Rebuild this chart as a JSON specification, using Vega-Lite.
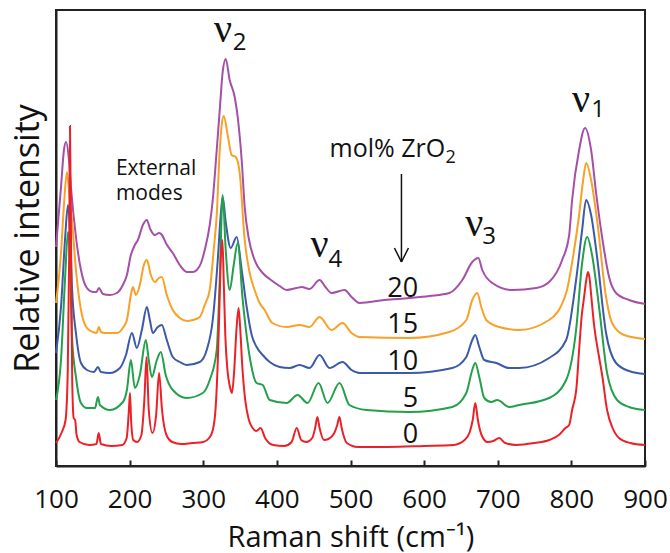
{
  "$schema": "https://vega.github.io/schema/vega-lite/v6.json",
  "width": 589,
  "height": 456,
  "autosize": {"type": "none"},
  "padding": {"left": 56, "top": 10, "right": 25, "bottom": 87},
  "background": "white",
  "config": {"view": {"stroke": "#222", "strokeWidth": 2}, "font": "Open Sans"},
  "datasets": {
    "spectra": [
      {"s":"20","x":100,"y":219},{"s":"20","x":106.8,"y":279},{"s":"20","x":110.8,"y":316},{"s":"20","x":113.6,"y":324},{"s":"20","x":117.6,"y":306},{"s":"20","x":120.3,"y":279},{"s":"20","x":127.1,"y":229},{"s":"20","x":133.9,"y":196},{"s":"20","x":142,"y":178},{"s":"20","x":150.2,"y":174},{"s":"20","x":155,"y":174},{"s":"20","x":158.3,"y":178},{"s":"20","x":163.7,"y":172},{"s":"20","x":173.2,"y":171},{"s":"20","x":182.7,"y":173},{"s":"20","x":190.8,"y":181},{"s":"20","x":196.3,"y":191},{"s":"20","x":201.7,"y":211},{"s":"20","x":207.1,"y":221},{"s":"20","x":211.2,"y":226},{"s":"20","x":218,"y":241},{"s":"20","x":223.4,"y":246},{"s":"20","x":228,"y":237},{"s":"20","x":234,"y":231},{"s":"20","x":240,"y":233},{"s":"20","x":244,"y":231},{"s":"20","x":250,"y":222},{"s":"20","x":258.6,"y":213},{"s":"20","x":268.1,"y":201},{"s":"20","x":277.6,"y":194},{"s":"20","x":285.8,"y":194},{"s":"20","x":291.2,"y":196},{"s":"20","x":297,"y":203},{"s":"20","x":302,"y":216},{"s":"20","x":308.8,"y":241},{"s":"20","x":312.9,"y":266},{"s":"20","x":318.3,"y":316},{"s":"20","x":322.4,"y":356},{"s":"20","x":326.4,"y":394},{"s":"20","x":330.5,"y":407},{"s":"20","x":335.9,"y":386},{"s":"20","x":342.7,"y":369},{"s":"20","x":346.8,"y":349},{"s":"20","x":352.2,"y":306},{"s":"20","x":356.3,"y":259},{"s":"20","x":361.7,"y":228},{"s":"20","x":369.8,"y":206},{"s":"20","x":380.7,"y":193},{"s":"20","x":390.2,"y":187},{"s":"20","x":403.7,"y":180},{"s":"20","x":413.2,"y":176},{"s":"20","x":426.8,"y":178},{"s":"20","x":433.6,"y":179},{"s":"20","x":444.4,"y":177},{"s":"20","x":458,"y":186},{"s":"20","x":466,"y":179},{"s":"20","x":474.2,"y":173},{"s":"20","x":491.9,"y":176},{"s":"20","x":501.4,"y":169},{"s":"20","x":512.2,"y":163},{"s":"20","x":546,"y":166},{"s":"20","x":580,"y":168},{"s":"20","x":607,"y":170},{"s":"20","x":634.2,"y":173},{"s":"20","x":651.9,"y":186},{"s":"20","x":665.4,"y":204},{"s":"20","x":673.6,"y":208},{"s":"20","x":679,"y":196},{"s":"20","x":692.6,"y":183},{"s":"20","x":719.7,"y":176},{"s":"20","x":752.2,"y":178},{"s":"20","x":769.8,"y":184},{"s":"20","x":787.5,"y":206},{"s":"20","x":797,"y":231},{"s":"20","x":801,"y":266},{"s":"20","x":810.5,"y":316},{"s":"20","x":818.6,"y":338},{"s":"20","x":826.8,"y":316},{"s":"20","x":833.6,"y":273},{"s":"20","x":841.7,"y":229},{"s":"20","x":851.2,"y":189},{"s":"20","x":860.7,"y":173},{"s":"20","x":878.3,"y":166},{"s":"20","x":900,"y":162},

      {"s":"15","x":100,"y":163},{"s":"15","x":106.8,"y":213},{"s":"15","x":110.8,"y":261},{"s":"15","x":114.9,"y":294},{"s":"15","x":117.6,"y":276},{"s":"15","x":121.7,"y":246},{"s":"15","x":127.1,"y":196},{"s":"15","x":133.9,"y":156},{"s":"15","x":142,"y":138},{"s":"15","x":150.2,"y":134},{"s":"15","x":155,"y":133},{"s":"15","x":158.3,"y":139},{"s":"15","x":161,"y":134},{"s":"15","x":167,"y":133},{"s":"15","x":182.7,"y":133},{"s":"15","x":190.8,"y":138},{"s":"15","x":196.3,"y":146},{"s":"15","x":201.7,"y":171},{"s":"15","x":204.4,"y":179},{"s":"15","x":208.5,"y":171},{"s":"15","x":213.9,"y":181},{"s":"15","x":219.3,"y":201},{"s":"15","x":223.4,"y":206},{"s":"15","x":228.8,"y":191},{"s":"15","x":234.2,"y":184},{"s":"15","x":239.7,"y":188},{"s":"15","x":243.7,"y":189},{"s":"15","x":250.5,"y":171},{"s":"15","x":258.6,"y":156},{"s":"15","x":268.1,"y":148},{"s":"15","x":277.6,"y":145},{"s":"15","x":285.8,"y":146},{"s":"15","x":295.3,"y":149},{"s":"15","x":302,"y":161},{"s":"15","x":308.8,"y":176},{"s":"15","x":314.2,"y":216},{"s":"15","x":318.3,"y":251},{"s":"15","x":322.4,"y":316},{"s":"15","x":325.1,"y":341},{"s":"15","x":327.8,"y":350},{"s":"15","x":333.2,"y":331},{"s":"15","x":338.6,"y":311},{"s":"15","x":344.1,"y":309},{"s":"15","x":349.5,"y":293},{"s":"15","x":356.3,"y":226},{"s":"15","x":363.1,"y":193},{"s":"15","x":369.8,"y":176},{"s":"15","x":376.6,"y":163},{"s":"15","x":383.4,"y":156},{"s":"15","x":393.9,"y":143},{"s":"15","x":413.2,"y":139},{"s":"15","x":430.8,"y":141},{"s":"15","x":444.4,"y":139},{"s":"15","x":458,"y":149},{"s":"15","x":474.2,"y":136},{"s":"15","x":489.2,"y":143},{"s":"15","x":501.4,"y":133},{"s":"15","x":512.2,"y":129},{"s":"15","x":580,"y":128},{"s":"15","x":634.2,"y":134},{"s":"15","x":657.3,"y":146},{"s":"15","x":665.4,"y":166},{"s":"15","x":672.2,"y":173},{"s":"15","x":677.6,"y":159},{"s":"15","x":684.4,"y":146},{"s":"15","x":702,"y":139},{"s":"15","x":729.2,"y":136},{"s":"15","x":769.8,"y":146},{"s":"15","x":792.9,"y":173},{"s":"15","x":803.7,"y":216},{"s":"15","x":810.5,"y":251},{"s":"15","x":816,"y":286},{"s":"15","x":820,"y":303},{"s":"15","x":826.8,"y":286},{"s":"15","x":834.9,"y":246},{"s":"15","x":847.1,"y":169},{"s":"15","x":855.3,"y":143},{"s":"15","x":871.5,"y":131},{"s":"15","x":900,"y":127},

      {"s":"10","x":100,"y":113},{"s":"10","x":106.8,"y":159},{"s":"10","x":112.2,"y":226},{"s":"10","x":116.3,"y":261},{"s":"10","x":119,"y":236},{"s":"10","x":121.7,"y":179},{"s":"10","x":127.1,"y":133},{"s":"10","x":133.9,"y":103},{"s":"10","x":142,"y":96},{"s":"10","x":151.5,"y":94},{"s":"10","x":157,"y":99},{"s":"10","x":161,"y":94},{"s":"10","x":173.2,"y":93},{"s":"10","x":186.8,"y":98},{"s":"10","x":195,"y":111},{"s":"10","x":203.1,"y":133},{"s":"10","x":209.8,"y":118},{"s":"10","x":216.6,"y":136},{"s":"10","x":223.4,"y":159},{"s":"10","x":227.5,"y":146},{"s":"10","x":231.5,"y":133},{"s":"10","x":238.3,"y":139},{"s":"10","x":243.7,"y":141},{"s":"10","x":250.5,"y":126},{"s":"10","x":258.6,"y":109},{"s":"10","x":268.1,"y":104},{"s":"10","x":277.6,"y":101},{"s":"10","x":295.3,"y":104},{"s":"10","x":304.7,"y":116},{"s":"10","x":312.9,"y":146},{"s":"10","x":319.7,"y":206},{"s":"10","x":323.7,"y":251},{"s":"10","x":326.4,"y":269},{"s":"10","x":330.5,"y":244},{"s":"10","x":337.3,"y":218},{"s":"10","x":345.4,"y":229},{"s":"10","x":352.2,"y":196},{"s":"10","x":359,"y":159},{"s":"10","x":365.8,"y":131},{"s":"10","x":372.5,"y":119},{"s":"10","x":380.7,"y":111},{"s":"10","x":390.2,"y":104},{"s":"10","x":403.7,"y":99},{"s":"10","x":417.3,"y":98},{"s":"10","x":430.8,"y":101},{"s":"10","x":444.4,"y":98},{"s":"10","x":458,"y":111},{"s":"10","x":471.5,"y":98},{"s":"10","x":489.2,"y":104},{"s":"10","x":501.4,"y":96},{"s":"10","x":512.2,"y":93},{"s":"10","x":580,"y":93},{"s":"10","x":638.3,"y":98},{"s":"10","x":657.3,"y":109},{"s":"10","x":665.4,"y":126},{"s":"10","x":669.5,"y":131},{"s":"10","x":674.9,"y":119},{"s":"10","x":681.7,"y":106},{"s":"10","x":698,"y":103},{"s":"10","x":715.6,"y":98},{"s":"10","x":729.2,"y":98},{"s":"10","x":769.8,"y":108},{"s":"10","x":792.9,"y":126},{"s":"10","x":806.4,"y":186},{"s":"10","x":814.6,"y":236},{"s":"10","x":820,"y":266},{"s":"10","x":826.8,"y":251},{"s":"10","x":834.9,"y":209},{"s":"10","x":847.1,"y":133},{"s":"10","x":860.7,"y":103},{"s":"10","x":878.3,"y":95},{"s":"10","x":900,"y":92},

      {"s":"5","x":100,"y":66},{"s":"5","x":106.8,"y":106},{"s":"5","x":112.2,"y":186},{"s":"5","x":116.3,"y":234},{"s":"5","x":119,"y":206},{"s":"5","x":121.7,"y":129},{"s":"5","x":127.1,"y":89},{"s":"5","x":133.9,"y":63},{"s":"5","x":142,"y":58},{"s":"5","x":153,"y":58},{"s":"5","x":157,"y":69},{"s":"5","x":159.7,"y":61},{"s":"5","x":173.2,"y":56},{"s":"5","x":190.8,"y":64},{"s":"5","x":196.3,"y":76},{"s":"5","x":201.7,"y":106},{"s":"5","x":207.1,"y":78},{"s":"5","x":213.9,"y":91},{"s":"5","x":222,"y":126},{"s":"5","x":226,"y":106},{"s":"5","x":230.2,"y":89},{"s":"5","x":237,"y":106},{"s":"5","x":242.4,"y":114},{"s":"5","x":249,"y":91},{"s":"5","x":258.6,"y":76},{"s":"5","x":277.6,"y":68},{"s":"5","x":299.3,"y":73},{"s":"5","x":308.8,"y":86},{"s":"5","x":318.3,"y":116},{"s":"5","x":322.4,"y":186},{"s":"5","x":326.4,"y":271},{"s":"5","x":330.5,"y":216},{"s":"5","x":335.9,"y":176},{"s":"5","x":341.4,"y":201},{"s":"5","x":346.8,"y":223},{"s":"5","x":353.6,"y":166},{"s":"5","x":363.1,"y":109},{"s":"5","x":372.5,"y":83},{"s":"5","x":380.7,"y":81},{"s":"5","x":390.2,"y":66},{"s":"5","x":413.2,"y":63},{"s":"5","x":428.1,"y":71},{"s":"5","x":441.7,"y":63},{"s":"5","x":456.6,"y":83},{"s":"5","x":468.8,"y":63},{"s":"5","x":485.1,"y":83},{"s":"5","x":498.6,"y":61},{"s":"5","x":521.7,"y":56},{"s":"5","x":580,"y":54},{"s":"5","x":638.3,"y":59},{"s":"5","x":657.3,"y":73},{"s":"5","x":665.4,"y":96},{"s":"5","x":669.5,"y":103},{"s":"5","x":674.9,"y":89},{"s":"5","x":681.7,"y":68},{"s":"5","x":691.2,"y":64},{"s":"5","x":699.3,"y":66},{"s":"5","x":715.6,"y":59},{"s":"5","x":729.2,"y":61},{"s":"5","x":769.8,"y":68},{"s":"5","x":792.9,"y":86},{"s":"5","x":806.4,"y":136},{"s":"5","x":814.6,"y":203},{"s":"5","x":821.4,"y":229},{"s":"5","x":828.1,"y":211},{"s":"5","x":837.6,"y":159},{"s":"5","x":848.5,"y":93},{"s":"5","x":862.1,"y":66},{"s":"5","x":878.3,"y":59},{"s":"5","x":900,"y":56},

      {"s":"0","x":100,"y":23},{"s":"0","x":108,"y":34},{"s":"0","x":113,"y":46},{"s":"0","x":116,"y":96},{"s":"0","x":118,"y":216},{"s":"0","x":119,"y":340},{"s":"0","x":120.5,"y":216},{"s":"0","x":122,"y":86},{"s":"0","x":124,"y":48},{"s":"0","x":126,"y":46},{"s":"0","x":128,"y":31},{"s":"0","x":132,"y":24},{"s":"0","x":145,"y":21},{"s":"0","x":155,"y":22},{"s":"0","x":158,"y":33},{"s":"0","x":161,"y":22},{"s":"0","x":175,"y":20},{"s":"0","x":190,"y":21},{"s":"0","x":196,"y":28},{"s":"0","x":199,"y":56},{"s":"0","x":200.5,"y":73},{"s":"0","x":202,"y":46},{"s":"0","x":205,"y":26},{"s":"0","x":210,"y":24},{"s":"0","x":216,"y":31},{"s":"0","x":220,"y":66},{"s":"0","x":223,"y":109},{"s":"0","x":226,"y":56},{"s":"0","x":231,"y":33},{"s":"0","x":236,"y":51},{"s":"0","x":240,"y":93},{"s":"0","x":244,"y":56},{"s":"0","x":250,"y":31},{"s":"0","x":258,"y":24},{"s":"0","x":270,"y":22},{"s":"0","x":285,"y":23},{"s":"0","x":300,"y":24},{"s":"0","x":308,"y":28},{"s":"0","x":313,"y":36},{"s":"0","x":317,"y":60},{"s":"0","x":320,"y":110},{"s":"0","x":322,"y":160},{"s":"0","x":324,"y":210},{"s":"0","x":326,"y":226},{"s":"0","x":328,"y":180},{"s":"0","x":330,"y":130},{"s":"0","x":333,"y":95},{"s":"0","x":336,"y":80},{"s":"0","x":339,"y":73},{"s":"0","x":342,"y":95},{"s":"0","x":345,"y":135},{"s":"0","x":348,"y":158},{"s":"0","x":350,"y":140},{"s":"0","x":353,"y":100},{"s":"0","x":357,"y":66},{"s":"0","x":362,"y":46},{"s":"0","x":367,"y":38},{"s":"0","x":372,"y":35},{"s":"0","x":378,"y":38},{"s":"0","x":384,"y":28},{"s":"0","x":395,"y":21},{"s":"0","x":410,"y":20},{"s":"0","x":420,"y":24},{"s":"0","x":427,"y":38},{"s":"0","x":433,"y":26},{"s":"0","x":440,"y":24},{"s":"0","x":448,"y":28},{"s":"0","x":452,"y":38},{"s":"0","x":455,"y":49},{"s":"0","x":458,"y":38},{"s":"0","x":464,"y":26},{"s":"0","x":470,"y":27},{"s":"0","x":478,"y":33},{"s":"0","x":482,"y":41},{"s":"0","x":485,"y":49},{"s":"0","x":488,"y":38},{"s":"0","x":495,"y":23},{"s":"0","x":510,"y":19},{"s":"0","x":550,"y":19},{"s":"0","x":600,"y":20},{"s":"0","x":640,"y":21},{"s":"0","x":655,"y":26},{"s":"0","x":662,"y":34},{"s":"0","x":666,"y":46},{"s":"0","x":669.5,"y":63},{"s":"0","x":673,"y":46},{"s":"0","x":678,"y":31},{"s":"0","x":686,"y":24},{"s":"0","x":694,"y":25},{"s":"0","x":702,"y":28},{"s":"0","x":710,"y":23},{"s":"0","x":725,"y":21},{"s":"0","x":750,"y":23},{"s":"0","x":770,"y":26},{"s":"0","x":783,"y":31},{"s":"0","x":792,"y":38},{"s":"0","x":797,"y":41},{"s":"0","x":801,"y":56},{"s":"0","x":807,"y":79},{"s":"0","x":810.5,"y":116},{"s":"0","x":814,"y":150},{"s":"0","x":817.3,"y":169},{"s":"0","x":820,"y":185},{"s":"0","x":822.7,"y":194},{"s":"0","x":825,"y":186},{"s":"0","x":827,"y":170},{"s":"0","x":831,"y":140},{"s":"0","x":837.6,"y":109},{"s":"0","x":842,"y":90},{"s":"0","x":848.5,"y":56},{"s":"0","x":856,"y":38},{"s":"0","x":864.7,"y":28},{"s":"0","x":880,"y":23},{"s":"0","x":900,"y":21}
    ],
    "nu": [{"x":327,"y":424},{"x":458,"y":209},{"x":668,"y":230},{"x":813,"y":354}],
    "nusub": [{"x":340,"y":416,"t":"2"},{"x":470,"y":199,"t":"4"},{"x":679,"y":222,"t":"3"},{"x":827,"y":349,"t":"1"}],
    "labels": [{"x":181.4,"y":291,"t":"External\nmodes"}],
    "mol": [{"x":471.5,"y":309,"t":"mol% ZrO"}],
    "molsub": [{"x":629,"y":303,"t":"2"}],
    "nums": [{"x":592,"y":169,"t":"20"},{"x":592,"y":133,"t":"15"},{"x":592,"y":96,"t":"10"},{"x":592,"y":59,"t":"5"},{"x":592,"y":23,"t":"0"}],
    "arrow": [{"x":569.2,"y":292,"x2":569.2,"y2":204},{"x":559.7,"y":218,"x2":569.2,"y2":204},{"x":578.7,"y":218,"x2":569.2,"y2":204}]
  },
  "layer": [
    {
      "data": {"name": "spectra"},
      "mark": {"type": "line", "strokeWidth": 2, "interpolate": "monotone"},
      "encoding": {
        "x": {"field": "x", "type": "quantitative", "scale": {"domain": [100, 900], "nice": false, "zero": false},
          "axis": {"values": [100,150,200,250,300,350,400,450,500,550,600,650,700,750,800,850,900],
            "labelExpr": "datum.value % 100 === 0 ? datum.label : ''", "labelOverlap": false, "labelFlush": false,
            "tickSize": -6, "tickColor": "#222", "tickWidth": 2, "domainColor": "#222", "domainWidth": 2,
            "labelFontSize": 26, "labelColor": "#111", "labelPadding": 26, "grid": false,
            "title": "Raman shift (cm⁻¹)", "titleFontSize": 29, "titleFontWeight": "normal", "titleColor": "#111", "titlePadding": 11}},
        "y": {"field": "y", "type": "quantitative", "scale": {"domain": [0, 456], "nice": false, "zero": false},
          "axis": {"ticks": false, "labels": false, "grid": false, "domainColor": "#222", "domainWidth": 2,
            "title": "Relative intensity", "titleFontSize": 34, "titleFontWeight": "normal", "titleColor": "#111", "titlePadding": 11}},
        "color": {"field": "s", "type": "nominal", "legend": null,
          "scale": {"domain": ["20","15","10","5","0"], "range": ["#a54fa8","#f8a128","#3c5aa8","#22a04b","#ec2127"]}}
      }
    },
    {
      "data": {"name": "nu"},
      "mark": {"type": "text", "text": "ν", "font": "Liberation Serif", "fontSize": 40, "align": "center", "baseline": "alphabetic", "color": "#111"},
      "encoding": {"x": {"field": "x", "type": "quantitative"}, "y": {"field": "y", "type": "quantitative"}}
    },
    {
      "data": {"name": "nusub"},
      "mark": {"type": "text", "fontSize": 24, "align": "left", "baseline": "alphabetic", "color": "#111"},
      "encoding": {"x": {"field": "x", "type": "quantitative"}, "y": {"field": "y", "type": "quantitative"}, "text": {"field": "t"}}
    },
    {
      "data": {"name": "labels"},
      "mark": {"type": "text", "fontSize": 21, "align": "left", "baseline": "alphabetic", "lineBreak": "\n", "lineHeight": 25, "color": "#111"},
      "encoding": {"x": {"field": "x", "type": "quantitative"}, "y": {"field": "y", "type": "quantitative"}, "text": {"field": "t"}}
    },
    {
      "data": {"name": "mol"},
      "mark": {"type": "text", "fontSize": 25, "align": "left", "baseline": "alphabetic", "color": "#111"},
      "encoding": {"x": {"field": "x", "type": "quantitative"}, "y": {"field": "y", "type": "quantitative"}, "text": {"field": "t"}}
    },
    {
      "data": {"name": "molsub"},
      "mark": {"type": "text", "fontSize": 18, "align": "left", "baseline": "alphabetic", "color": "#111"},
      "encoding": {"x": {"field": "x", "type": "quantitative"}, "y": {"field": "y", "type": "quantitative"}, "text": {"field": "t"}}
    },
    {
      "data": {"name": "nums"},
      "mark": {"type": "text", "fontSize": 27, "align": "right", "baseline": "alphabetic", "color": "#111"},
      "encoding": {"x": {"field": "x", "type": "quantitative"}, "y": {"field": "y", "type": "quantitative"}, "text": {"field": "t"}}
    },
    {
      "data": {"name": "arrow"},
      "mark": {"type": "rule", "strokeWidth": 1.5, "color": "#111"},
      "encoding": {"x": {"field": "x", "type": "quantitative"}, "y": {"field": "y", "type": "quantitative"}, "x2": {"field": "x2"}, "y2": {"field": "y2"}}
    }
  ]
}
